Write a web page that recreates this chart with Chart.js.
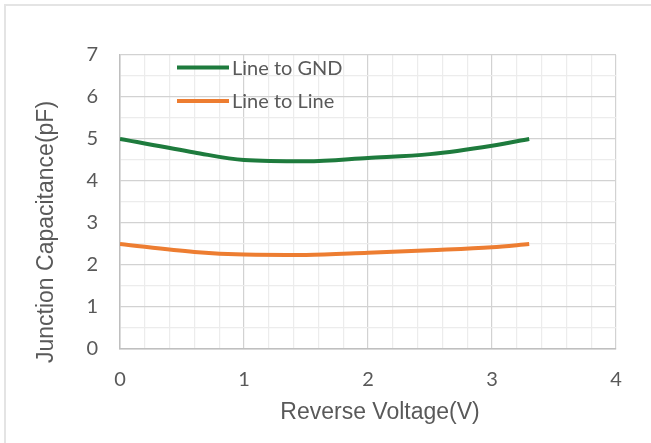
<!DOCTYPE html>
<html>
<head>
<meta charset="utf-8">
<script src="https://cdn.jsdelivr.net/npm/chart.js@4.4.0/dist/chart.umd.min.js"></script>
<style>
    body { margin: 0; background: #ffffff; overflow: hidden; }
    #wrap { position: relative; width: 651px; height: 443px; }
    #frame {
        position: absolute; left: 4px; top: 4px; width: 700px; height: 500px;
        border: 2px solid #e4e4e4;
    }
    #chart { position: absolute; left: 0; top: 0; }
</style>
</head>
<body>
<div id="wrap">
    <div id="frame"></div>
    <canvas id="chart" width="651" height="443"></canvas>
</div>
<script>
// Data
const voltage = [0, 0.6, 1, 1.5, 2, 2.5, 3, 3.3]
const lineToGnd = [5.0, 4.68, 4.5, 4.47, 4.55, 4.64, 4.84, 5.0]
const lineToLine = [2.5, 2.31, 2.25, 2.24, 2.29, 2.35, 2.42, 2.5]

const seriesLabels = ['Line to GND', 'Line to Line']
const xTitle = 'Reverse Voltage(V)'
const yTitle = 'Junction Capacitance(pF)'

const textGray = '#595959'

function toPoints(ys){
    return voltage.map(function(v, i){
        return { x: v, y: ys[i] }
    })
}

function isWhole(v){
    return Math.abs(v - Math.round(v)) < 1e-6
}

// Legend drawn inside the plot, like the original
const innerLegend = {
    id: 'innerLegend',
    afterDatasetsDraw(chart){
        const ctx = chart.ctx
        const rows = [67.5, 101]
        ctx.save()
        chart.data.datasets.forEach(function(ds, i){
            ctx.strokeStyle = ds.borderColor
            ctx.lineWidth = 4
            ctx.beginPath()
            ctx.moveTo(177, rows[i])
            ctx.lineTo(229, rows[i])
            ctx.stroke()
            ctx.fillStyle = textGray
            ctx.font = '20px Lato'
            ctx.textBaseline = 'middle'
            ctx.fillText(ds.label, 232, rows[i] + 1)
        })
        ctx.restore()
    }
}

// Axis titles (slightly off-centre in the original)
const axisTitles = {
    id: 'axisTitles',
    afterDraw(chart){
        const ctx = chart.ctx
        ctx.save()
        ctx.fillStyle = textGray
        ctx.font = '23px "Liberation Sans"'
        ctx.textAlign = 'center'
        ctx.textBaseline = 'middle'
        ctx.fillText(xTitle, 380, 413)
        ctx.translate(47, 232)
        ctx.rotate(-Math.PI / 2)
        ctx.fillText(yTitle, 0, 0)
        ctx.restore()
    }
}

new Chart('chart', {
    type: 'line',
    data: {
        datasets: [
            {
                label: seriesLabels[0],
                data: toPoints(lineToGnd),
                borderColor: '#1e7b3d',
                borderWidth: 4,
                pointRadius: 0,
                cubicInterpolationMode: 'monotone',
                fill: false
            },
            {
                label: seriesLabels[1],
                data: toPoints(lineToLine),
                borderColor: '#ed7d31',
                borderWidth: 4,
                pointRadius: 0,
                cubicInterpolationMode: 'monotone',
                fill: false
            }
        ]
    },
    options: {
        responsive: false,
        animation: false,
        layout: {
            padding: { top: 55, right: 35, left: 0, bottom: 0 }
        },
        scales: {
            x: {
                type: 'linear',
                min: 0,
                max: 4,
                ticks: {
                    stepSize: 0.2,
                    autoSkip: false,
                    maxRotation: 0,
                    padding: 19,
                    color: textGray,
                    font: { family: 'Lato', size: 20 },
                    callback: function(v){ return isWhole(v) ? Math.round(v) : '' }
                },
                grid: {
                    drawTicks: false,
                    color: function(c){ return isWhole(c.tick.value) ? '#d2d2d2' : '#ececec' },
                    lineWidth: 1.2
                },
                border: { color: '#bfbfbf', width: 1.5 },
                afterFit: function(scale){ scale.height = 94 }
            },
            y: {
                min: 0,
                max: 7,
                ticks: {
                    stepSize: 0.5,
                    autoSkip: false,
                    padding: 22,
                    color: textGray,
                    font: { family: 'Lato', size: 20 },
                    callback: function(v){ return isWhole(v) ? Math.round(v) : '' }
                },
                grid: {
                    drawTicks: false,
                    color: function(c){ return isWhole(c.tick.value) ? '#d2d2d2' : '#ececec' },
                    lineWidth: 1.2
                },
                border: { color: '#bfbfbf', width: 1.5 },
                afterFit: function(scale){ scale.width = 120 }
            }
        },
        plugins: {
            legend: { display: false },
            tooltip: { enabled: false }
        }
    },
    plugins: [innerLegend, axisTitles]
})
</script>
</body>
</html>
